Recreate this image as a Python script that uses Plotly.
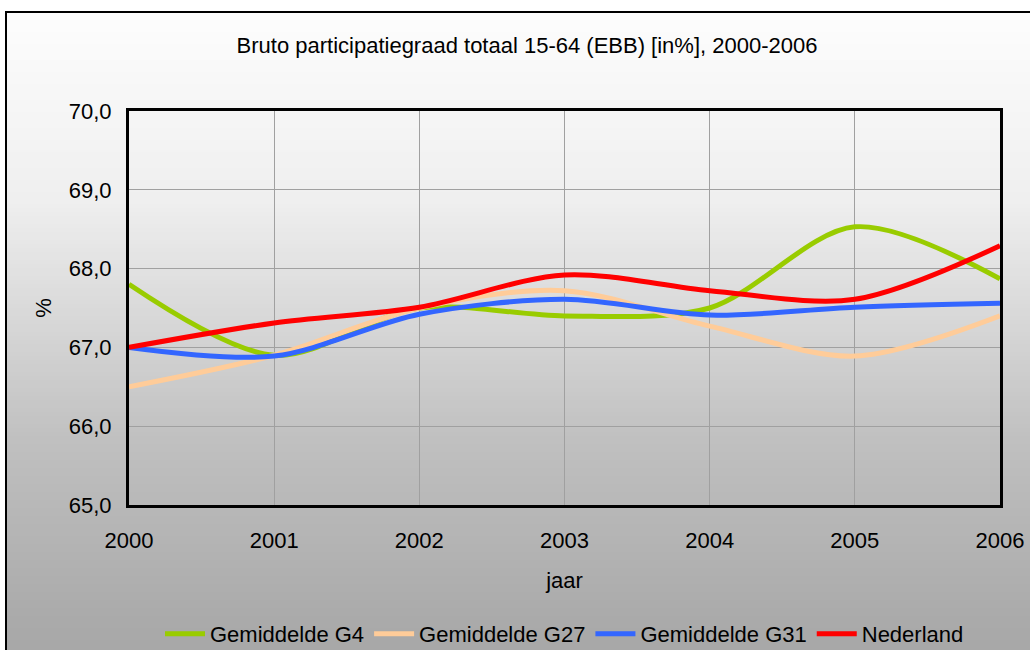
import plotly.graph_objects as go

years = [2000, 2001, 2002, 2003, 2004, 2005, 2006]
g4 = [67.8, 66.9, 67.5, 67.4, 67.5, 68.53, 67.87]
g27 = [66.5, 66.9, 67.5, 67.72, 67.27, 66.89, 67.4]
g31 = [67.0, 66.89, 67.42, 67.61, 67.41, 67.51, 67.56]
nl = [67.0, 67.31, 67.51, 67.92, 67.72, 67.61, 68.29]

series_names = ["Gemiddelde G4", "Gemiddelde G27", "Gemiddelde G31", "Nederland"]
series_values = [g4, g27, g31, nl]
series_colors = ["#99cc00", "#ffcc99", "#3366ff", "#ff0000"]

title_text = "Bruto participatiegraad totaal 15-64 (EBB) [in%], 2000-2006"

W, H = 1030, 650
L, R, T, B = 129, 1000, 111, 505  # plot area pixel bounds

def px(x):
    return (x - L) / (R - L)

def py(y):
    return (B - y) / (B - T)

fig = go.Figure()
for name, vals, col in zip(series_names, series_values, series_colors):
    fig.add_trace(go.Scatter(
        x=years, y=vals, name=name, mode="lines",
        line=dict(color=col, width=5, shape="spline", smoothing=0.9),
    ))

# gradient background bands
stops = [(12, 253), (200, 239), (440, 192), (620, 170), (660, 167)]
def gray_at(y):
    for (y0, g0), (y1, g1) in zip(stops[:-1], stops[1:]):
        if y0 <= y <= y1:
            return g0 + (g1 - g0) * (y - y0) / (y1 - y0)
    return stops[-1][1]

shapes = []
step = 4
y = 12
while y < 660:
    g = int(round(gray_at(y + step / 2)))
    shapes.append(dict(type="rect", xref="paper", yref="paper",
                       x0=px(6), x1=px(1040), y0=py(y), y1=py(y + step + 0.5),
                       fillcolor=f"rgb({g},{g},{g})", line=dict(width=0), layer="below"))
    y += step
# outer border
shapes.append(dict(type="rect", xref="paper", yref="paper",
                   x0=px(6), x1=px(1045), y0=py(12), y1=py(665),
                   line=dict(color="black", width=2), fillcolor="rgba(0,0,0,0)", layer="above"))

fig.update_layout(
    width=W, height=H,
    margin=dict(l=L, r=W - R, t=T, b=H - B, pad=0, autoexpand=False),
    paper_bgcolor="white",
    plot_bgcolor="rgba(0,0,0,0)",
    separators=",.",
    font=dict(family="Liberation Sans, Arial, sans-serif", size=22, color="black"),
    title=dict(text=title_text, xref="container", x=527 / W, xanchor="center",
               yref="container", y=1 - 45 / H, yanchor="middle", font=dict(size=22)),
    shapes=shapes,
    showlegend=True,
    legend=dict(orientation="h", x=0.5, xanchor="center", y=py(634), yanchor="middle",
                bgcolor="rgba(0,0,0,0)", font=dict(size=22), itemwidth=40, tracegroupgap=0),
    xaxis=dict(range=[2000, 2006], dtick=1, tick0=2000, showgrid=True, gridcolor="#a0a0a0", gridwidth=1,
               showline=True, linecolor="black", linewidth=3, mirror=True, ticks="",
               ticklabelstandoff=14, zeroline=False, automargin=False,
               title=dict(text="jaar", standoff=21, font=dict(size=22))),
    yaxis=dict(range=[65, 70], dtick=1, tick0=65, tickformat=".1f", showgrid=True, gridcolor="#a0a0a0",
               gridwidth=1, showline=True, linecolor="black", linewidth=3, mirror=True, ticks="",
               ticklabelstandoff=10, zeroline=False, automargin=False,
               title=dict(text="%", standoff=12, font=dict(size=22))),
)

fig.write_html("out.html", config={"displayModeBar": False},
               post_script="document.body.style.margin='0';document.body.style.padding='0';")
